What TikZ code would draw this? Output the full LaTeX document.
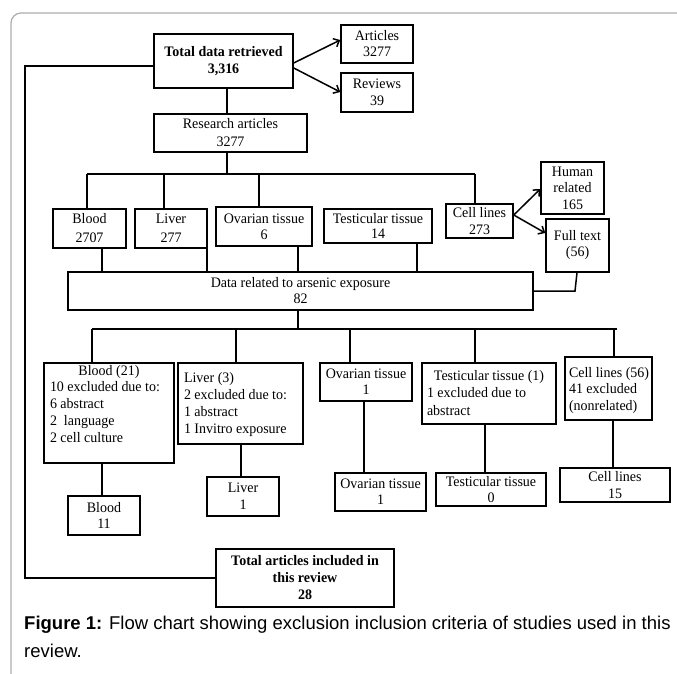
\documentclass[tikz,border=0pt]{standalone}
\usepackage{fontspec}
\setmainfont{Liberation Serif}[FakeStretch=0.965]
\newfontfamily\capfont{Liberation Sans}
\usetikzlibrary{arrows.meta}
\newcommand\myfs[1]{\fontsize{14.5}{#1}\selectfont}
\begin{document}
\begin{tikzpicture}[x=1pt,y=-1pt,
  bx/.style={draw, line width=1.5pt, inner sep=0pt, align=center, font=\myfs{17}},
  bbx/.style={bx, font=\myfs{17.5}\bfseries},
  ln/.style={line width=1.5pt},
  arr/.style={line width=1.5pt, -{Straight Barb[length=5pt,width=9pt,line width=1.5pt]}},
  frm/.style={draw=black!32, line width=1.2pt, rounded corners=10pt},
  capt/.style={anchor=base west, inner sep=0pt, font=\capfont\fontsize{18.5}{28}\selectfont}]
\useasboundingbox (0,0) rectangle (677,673);
\clip (0,0) rectangle (677,673);
\fill[white] (0,0) rectangle (677,673);
\draw[frm] (11,720) -- (11,13) -- (720,13);

% top level
\node[bbx, minimum width=139pt, minimum height=54pt] (td) at (223.5,61) {Total data retrieved\\3,316};
\node[bx, minimum width=72pt, minimum height=38pt, font=\myfs{16}] (art) at (377,44) {Articles\\3277};
\node[bx, minimum width=72pt, minimum height=39pt] (rev) at (377,92.5) {Reviews\\39};
\node[bx, minimum width=153pt, minimum height=38pt, font=\myfs{18}] (res) at (230.5,133) {Research articles\\3277};

% first row
\node[bx, minimum width=73pt, minimum height=39pt, font=\myfs{19}] (blood) at (89.5,228.5) {Blood\\2707};
\node[bx, minimum width=72pt, minimum height=39pt, font=\myfs{19}] (liver) at (171,228.5) {Liver\\277};
\node[bx, minimum width=96pt, minimum height=39pt, font=\myfs{16}] (ova) at (264,226.5) {Ovarian tissue\\6};
\node[bx, minimum width=108pt, minimum height=34pt, font=\myfs{15}] (tes) at (378,226) {Testicular tissue\\14};
\node[bx, minimum width=67pt, minimum height=34pt] (cell) at (479.5,221) {Cell lines\\273};
\node[bx, minimum width=63pt, minimum height=52pt, font=\myfs{16.5}] (hum) at (572.5,188) {Human\\related\\165};
\node[bx, minimum width=63pt, minimum height=53pt, font=\myfs{16}] (full) at (577.5,245.5) {Full text\\(56)};

% data
\node[bx, minimum width=465pt, minimum height=38pt, font=\myfs{16}] (data) at (300.5,291) {Data related to arsenic exposure\\82};

% second row
\node[bx, minimum width=130pt, minimum height=100pt] (b21) at (109,413) {\begin{minipage}[c][100pt][t]{118pt}\myfs{16.8}\raggedright\vspace{2pt}\makebox[\linewidth]{Blood (21)}\\\mbox{10 excluded due to:}\\6 abstract\\2\ \ language\\2 cell culture\end{minipage}};
\node[bx, minimum width=125pt, minimum height=81pt] (l3) at (240.5,403.5) {\begin{minipage}[c][81pt][t]{113pt}\myfs{17}\raggedright\vspace{9pt}Liver (3)\\\mbox{2 excluded due to:}\\1 abstract\\\mbox{1 Invitro exposure}\end{minipage}};
\node[bx, minimum width=92pt, minimum height=38pt, font=\myfs{16}] (o1) at (366,382) {Ovarian tissue\\1};
\node[bx, minimum width=134pt, minimum height=61pt] (t1) at (489,393.5) {\begin{minipage}[c][61pt][t]{124pt}\myfs{17.5}\raggedright\vspace{7pt}\makebox[\linewidth]{Testicular tissue (1)}\\\mbox{1 excluded due to}\\abstract\end{minipage}};
\node[bx, minimum width=87pt, minimum height=63pt] (c56) at (608.5,388.5) {\begin{minipage}[c][63pt][t]{87pt}\myfs{16.5}\raggedright\leftskip=4pt\vspace{10pt}\mbox{Cell lines (56)}\\\mbox{41 excluded}\\\mbox{(nonrelated)}\end{minipage}};

% third row
\node[bx, minimum width=72pt, minimum height=39pt, font=\myfs{16}] (b11) at (104,515.5) {Blood\\11};
\node[bx, minimum width=72pt, minimum height=39pt, font=\myfs{17}] (l1) at (243,496.5) {Liver\\1};
\node[bx, minimum width=91pt, minimum height=38pt, font=\myfs{16}] (of) at (380.5,492) {Ovarian tissue\\1};
\node[bx, minimum width=110pt, minimum height=33pt, font=\myfs{16.5}] (tf) at (491,489.5) {Testicular tissue\\0};
\node[bx, minimum width=110pt, minimum height=34pt, font=\myfs{17}] (cf) at (615,485) {Cell lines\\15};

% total
\node[bbx, minimum width=178pt, minimum height=58pt, font=\myfs{17}\bfseries] (tot) at (305,578) {Total articles included in\\this review\\28};

% caption
\node[capt] (cap1) at (24,629) {\textbf{Figure 1:} Flow chart showing exclusion inclusion criteria of studies used in this};
\node[capt] (cap2) at (24,657) {review.};

% connectors
\draw[ln] (td.west |- 0,66) -- (25,66) -- (25,578) -- (tot.west |- 0,578);
\draw[ln] (td.south -| 227,0) -- (res.north -| 227,0);
\coordinate (br1) at (227,174);
\draw[ln] (res.south -| 227,0) -- (br1);
\draw[ln] (87,174) -- (475,174);
\draw[ln] (87,174) -- (blood.north -| 87,0);
\draw[ln] (164,174) -- (liver.north -| 164,0);
\draw[ln] (259,174) -- (ova.north -| 259,0);
\draw[ln] (475,174) -- (cell.north -| 475,0);

\draw[arr] (td.east |- 0,63) -- (art.west |- 0,40);
\draw[arr] (td.east |- 0,68) -- (rev.west |- 0,92);
\draw[arr] (cell.east |- 0,215) -- (hum.west |- 0,189);
\draw[arr] (cell.east |- 0,215) -- (full.west |- 0,233);

\draw[ln] (blood.south -| 102,0) -- (data.north -| 102,0);
\draw[ln] (liver.south -| 207,0) -- (data.north -| 207,0);
\draw[ln] (ova.south -| 298,0) -- (data.north -| 298,0);
\draw[ln] (tes.south -| 417,0) -- (data.north -| 417,0);
\draw[ln] (full.south -| 577,0) -- (575,291) -- (data.east |- 0,291);

\coordinate (br2) at (298,329);
\draw[ln] (data.south -| 298,0) -- (br2);
\draw[ln] (92,329) -- (617,329);
\draw[ln] (92,329) -- (b21.north -| 92,0);
\draw[ln] (236,329) -- (l3.north -| 236,0);
\draw[ln] (350,329) -- (o1.north -| 350,0);
\draw[ln] (475,329) -- (t1.north -| 475,0);
\draw[ln] (614,329) -- (c56.north -| 614,0);

\draw[ln] (b21.south -| 102,0) -- (b11.north -| 102,0);
\draw[ln] (l3.south -| 241,0) -- (l1.north -| 241,0);
\draw[ln] (o1.south -| 364,0) -- (of.north -| 364,0);
\draw[ln] (t1.south -| 485,0) -- (tf.north -| 485,0);
\draw[ln] (c56.south -| 613,0) -- (cf.north -| 613,0);
\end{tikzpicture}
\end{document}
